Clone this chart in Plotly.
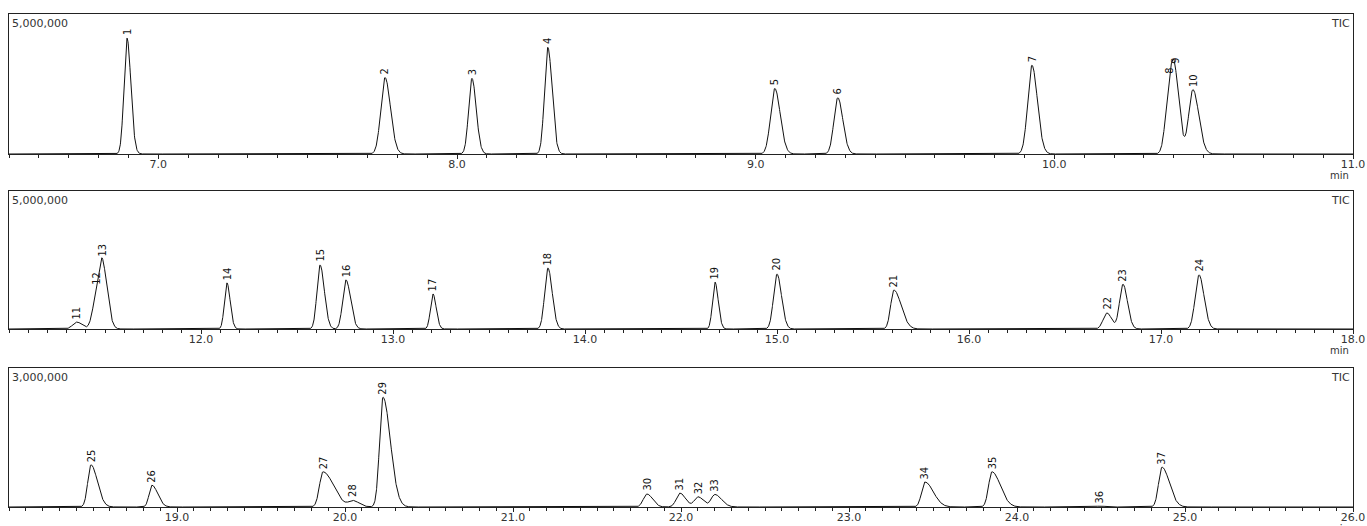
import numpy as np
import plotly.graph_objects as go

# ---------------- data ----------------
# Panel 1 : 6.5 - 11.0 min, full scale 5,000,000
p1_ids = ["1", "2", "3", "4", "5", "6", "7", "8", "9", "10"]
p1_rt = [6.895, 7.759, 8.050, 8.304, 9.064, 9.275, 9.925, 10.385, 10.405, 10.464]
p1_height = [4.14e6, 2.73e6, 2.70e6, 3.81e6, 2.34e6, 2.01e6, 3.17e6, 2.10e6, 2.20e6, 2.30e6]
p1_sigma = [0.010, 0.014, 0.011, 0.011, 0.014, 0.013, 0.014, 0.013, 0.013, 0.014]
p1_tail = [1.3, 1.3, 1.3, 1.3, 1.3, 1.3, 1.3, 1.2, 1.2, 1.4]

# Panel 2 : 11.0 - 18.0 min, full scale 5,000,000
p2_ids = ["11", "12", "13", "14", "15", "16", "17", "18", "19", "20", "21", "22", "23", "24"]
p2_rt = [11.354, 11.455, 11.488, 12.135, 12.620, 12.755, 13.208, 13.807, 14.677, 15.000,
         15.609, 16.719, 16.802, 17.198]
p2_height = [0.25e6, 1.10e6, 2.10e6, 1.67e6, 2.32e6, 1.78e6, 1.27e6, 2.21e6, 1.70e6, 1.99e6,
             1.41e6, 0.58e6, 1.62e6, 1.96e6]
p2_sigma = [0.022, 0.020, 0.018, 0.013, 0.016, 0.017, 0.013, 0.017, 0.013, 0.018,
            0.017, 0.020, 0.018, 0.020]
p2_tail = [1.2, 1.2, 1.4, 1.3, 1.4, 1.4, 1.3, 1.3, 1.3, 1.3, 2.2, 1.2, 1.3, 1.3]

# Panel 3 : 18.0 - 26.0 min, full scale 3,000,000
p3_ids = ["25", "26", "27", "28", "29", "30", "31", "32", "33", "34", "35", "36", "37"]
p3_rt = [18.488, 18.851, 19.869, 20.048, 20.226, 21.798, 21.994, 22.101, 22.202,
         23.452, 23.851, 24.494, 24.863]
p3_height = [0.91e6, 0.47e6, 0.76e6, 0.13e6, 2.37e6, 0.28e6, 0.30e6, 0.22e6, 0.27e6,
             0.54e6, 0.76e6, 0.02e6, 0.86e6]
p3_sigma = [0.019, 0.017, 0.021, 0.025, 0.020, 0.022, 0.022, 0.022, 0.022,
            0.020, 0.020, 0.020, 0.020]
p3_tail = [2.0, 2.0, 3.0, 1.5, 2.2, 1.5, 1.5, 1.5, 1.8, 2.5, 2.5, 1.5, 2.2]

x_ranges = [(6.5, 11.0), (11.0, 18.0), (18.0, 26.0)]
y_full = [5_000_000, 5_000_000, 3_000_000]
y_labels = ["5,000,000", "5,000,000", "3,000,000"]
major_ticks = [[7.0, 8.0, 9.0, 10.0, 11.0],
               [12.0, 13.0, 14.0, 15.0, 16.0, 17.0, 18.0],
               [19.0, 20.0, 21.0, 22.0, 23.0, 24.0, 25.0, 26.0]]

panels = [
    (p1_ids, p1_rt, p1_height, p1_sigma, p1_tail),
    (p2_ids, p2_rt, p2_height, p2_sigma, p2_tail),
    (p3_ids, p3_rt, p3_height, p3_sigma, p3_tail),
]

# ---------------- helpers ----------------
def chromatogram(t, rt, h, s, tail):
    y = np.zeros_like(t)
    for r, hh, ss, tt in zip(rt, h, s, tail):
        sd = np.where(t < r, ss, ss * tt)
        y += hh * np.exp(-0.5 * ((t - r) / sd) ** 2)
    return y

W, H = 1367, 526
x_dom = [9 / W, 1353 / W]
# (top px, bottom px) of each panel
panel_px = [(14, 154), (191, 329), (368, 507)]
y_doms = [[1 - b / H, 1 - t / H] for t, b in panel_px]

AX_FONT = dict(family="DejaVu Sans, Verdana, sans-serif", size=11, color="#333")
MIN_FONT = dict(family="DejaVu Sans, Verdana, sans-serif", size=10, color="#333")
LBL_FONT = dict(family="Liberation Sans Narrow, DejaVu Sans Condensed, Arial Narrow, sans-serif",
                size=11, color="#111")

fig = go.Figure()
annotations = []

for i, ((ids, rt, h, s, tail), (x0, x1)) in enumerate(zip(panels, x_ranges)):
    n = "" if i == 0 else str(i + 1)
    t = np.linspace(x0, x1, int((x1 - x0) * 1200) + 1)
    y = chromatogram(t, rt, h, s, tail)
    fig.add_trace(go.Scatter(x=t, y=y, mode="lines",
                             line=dict(color="#111", width=1),
                             xaxis="x" + n, yaxis="y" + n,
                             hoverinfo="skip", showlegend=False))

    # peak number labels
    apex = chromatogram(np.array(rt, dtype=float), rt, h, s, tail)
    for pid, r, a in zip(ids, rt, apex):
        annotations.append(dict(x=r, y=a, xref="x" + n, yref="y" + n,
                                text=pid, showarrow=False, textangle=-90,
                                xanchor="center", yanchor="bottom", yshift=1,
                                font=LBL_FONT))

    fig.update_layout(**{
        "xaxis" + n: dict(domain=x_dom, anchor="y" + n, range=[x0, x1],
                          showgrid=False, zeroline=False,
                          showline=True, linecolor="#222", linewidth=1, mirror=True,
                          tickmode="array", tickvals=major_ticks[i],
                          ticktext=[f"{v:.1f}" for v in major_ticks[i]],
                          ticks="outside", ticklen=4, tickcolor="#222", tickwidth=1,
                          ticklabelstandoff=-4,
                          minor=dict(ticks="outside", ticklen=3, tickcolor="#222",
                                     tickmode="linear", tick0=0, dtick=0.1, showgrid=False),
                          tickfont=AX_FONT, automargin=False, fixedrange=True),
        "yaxis" + n: dict(domain=y_doms[i], anchor="x" + n, range=[0, y_full[i]],
                          showgrid=False, zeroline=False,
                          showline=True, linecolor="#222", linewidth=1, mirror=True,
                          showticklabels=False, ticks="", automargin=False, fixedrange=True),
    })

    top = y_doms[i][1]
    bot = y_doms[i][0]
    annotations.append(dict(x=x_dom[0], y=top, xref="paper", yref="paper",
                            text=y_labels[i], showarrow=False, xanchor="left", yanchor="top",
                            xshift=1, yshift=-1, font=AX_FONT))
    annotations.append(dict(x=x_dom[1], y=top, xref="paper", yref="paper",
                            text="TIC", showarrow=False, xanchor="right", yanchor="top",
                            xshift=-1, yshift=-1, font=AX_FONT))
    annotations.append(dict(x=x_dom[1], y=bot, xref="paper", yref="paper",
                            text="min", showarrow=False, xanchor="right", yanchor="top",
                            xshift=-2, yshift=-14, font=MIN_FONT))

fig.update_layout(width=W, height=H, template="none",
                  margin=dict(l=0, r=0, t=0, b=0),
                  paper_bgcolor="white", plot_bgcolor="white",
                  showlegend=False, annotations=annotations)

fig.write_html("out.html", config={"displayModeBar": False},
               post_script="document.body.style.margin='0';document.body.style.overflow='hidden';")
